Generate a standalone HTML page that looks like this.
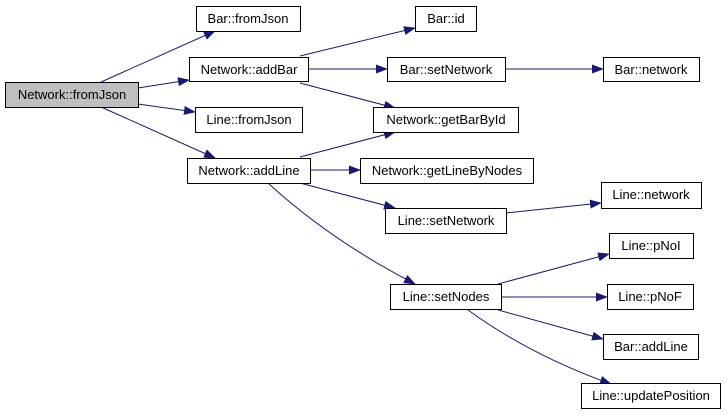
<!DOCTYPE html>
<html><head><style>
body{margin:0;background:#fff;}
svg{display:block;}
text{font-family:"Liberation Sans",sans-serif;font-size:13px;fill:#000;}
</style></head><body>
<svg width="727" height="417" viewBox="0 0 727 417">
<defs><marker id="a" markerWidth="12" markerHeight="9" refX="11" refY="4.5" orient="auto" markerUnits="userSpaceOnUse"><path d="M0,0 L12,4.5 L0,9 Z" fill="#191970"/></marker></defs>
<g stroke="#191970" stroke-width="1" fill="none" marker-end="url(#a)">
<path d="M101,82 L215,31"/>
<path d="M138,88 L189,80"/>
<path d="M138,104 L195,112"/>
<path d="M101,107 L215,158"/>
<path d="M300,56 L415,28"/>
<path d="M308,69 L387,69"/>
<path d="M300,83 L395,108"/>
<path d="M505,69 L603,69"/>
<path d="M300,157 L395,132"/>
<path d="M310,170 L360,170"/>
<path d="M300,183 L395,208"/>
<path d="M268,183 Q330,240 415,284"/>
<path d="M506,213 L601,203"/>
<path d="M498,284 L609,254"/>
<path d="M501,297 L607,297"/>
<path d="M498,310 L603,339"/>
<path d="M468,310 Q530,355 611,384"/>
</g>
<g stroke="#000" stroke-width="1">
<rect x="5.5" y="82.5" width="133" height="25" fill="#bfbfbf"/>
<rect x="196.5" y="6.5" width="104" height="25" fill="#fff"/>
<rect x="189.5" y="57.5" width="119" height="24" fill="#fff"/>
<rect x="195.5" y="107.5" width="107" height="25" fill="#fff"/>
<rect x="187.5" y="158.5" width="123" height="25" fill="#fff"/>
<rect x="415.5" y="6.5" width="61" height="25" fill="#fff"/>
<rect x="387.5" y="57.5" width="118" height="24" fill="#fff"/>
<rect x="603.5" y="57.5" width="96" height="24" fill="#fff"/>
<rect x="373.5" y="107.5" width="145" height="25" fill="#fff"/>
<rect x="360.5" y="158.5" width="173" height="25" fill="#fff"/>
<rect x="601.5" y="182.5" width="100" height="26" fill="#fff"/>
<rect x="385.5" y="208.5" width="121" height="25" fill="#fff"/>
<rect x="609.5" y="233.5" width="84" height="25" fill="#fff"/>
<rect x="390.5" y="284.5" width="111" height="25" fill="#fff"/>
<rect x="607.5" y="284.5" width="86" height="25" fill="#fff"/>
<rect x="603.5" y="334.5" width="95" height="25" fill="#fff"/>
<rect x="581.5" y="383.5" width="139" height="25" fill="#fff"/>
</g>
<g text-anchor="middle">
<text x="72" y="99">Network::fromJson</text>
<text x="248" y="23">Bar::fromJson</text>
<text x="249" y="74">Network::addBar</text>
<text x="249" y="124">Line::fromJson</text>
<text x="249" y="175">Network::addLine</text>
<text x="446" y="23">Bar::id</text>
<text x="446" y="74">Bar::setNetwork</text>
<text x="651" y="74">Bar::network</text>
<text x="446" y="124">Network::getBarById</text>
<text x="447" y="175">Network::getLineByNodes</text>
<text x="651" y="199">Line::network</text>
<text x="446" y="225">Line::setNetwork</text>
<text x="651" y="250">Line::pNoI</text>
<text x="446" y="301">Line::setNodes</text>
<text x="650" y="301">Line::pNoF</text>
<text x="651" y="351">Bar::addLine</text>
<text x="651" y="400">Line::updatePosition</text>
</g>
</svg>
</body></html>
